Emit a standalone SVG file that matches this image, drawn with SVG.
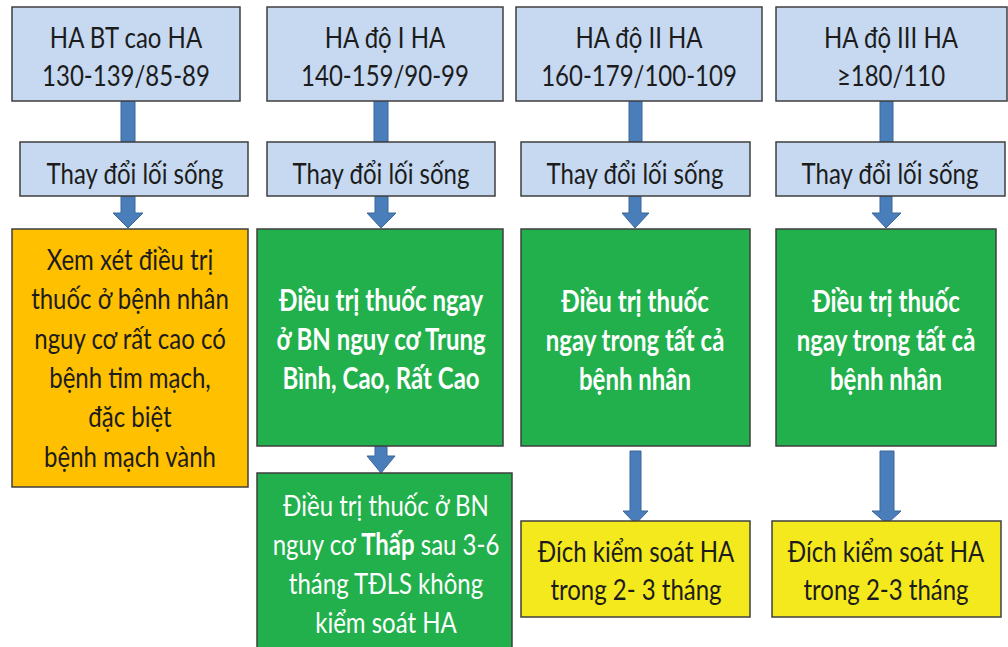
<svg xmlns="http://www.w3.org/2000/svg" width="1008" height="647" viewBox="0 0 1008 647">
<style>
.bx{stroke:#3f3f3f;stroke-width:1.5}
.blue{fill:#C6D9F1}
.org{fill:#FFC000}
.grn{fill:#21B04B}
.yel{fill:#F4E91C}
.t{font-family:Lato,"Liberation Sans","Noto Sans",sans-serif;font-size:24px;fill:#1c1c1c;text-anchor:middle}
.w{fill:#ffffff}
.b{font-weight:bold}
.arr{fill:#4A7EBB;stroke:#3B6699;stroke-width:1}
</style>
<rect width="1008" height="647" fill="#ffffff"/>
<g id="connectors">
<polygon class="arr" points="121,101 135,101 135,142 121,142"/>
<polygon class="arr" points="374,101 388,101 388,142 374,142"/>
<polygon class="arr" points="629,101 642,101 642,142 629,142"/>
<polygon class="arr" points="880,101 893,101 893,142 880,142"/>
<polygon class="arr" points="121,196 135,196 135,213 143,213 128,228 113,213 121,213"/>
<polygon class="arr" points="375,196 388,196 388,213 396,213 381,228 367,213 375,213"/>
<polygon class="arr" points="629,196 641,196 641,213 649,213 635,228 622,213 629,213"/>
<polygon class="arr" points="880,196 892,196 892,213 901,213 886,228 872,213 880,213"/>
<polygon class="arr" points="375,446 387,446 387,456 395,456 381,473 367,456 375,456"/>
<polygon class="arr" points="630,451 641,451 641,511 648,511 635.5,524 623,511 630,511"/>
<polygon class="arr" points="880,451 894,451 894,511 901,511 887,524 872,511 880,511"/>
</g>
<g id="n-b1"><rect class="bx blue" x="12" y="7" width="228" height="94"/>
<text class="t" transform="translate(126,48) scale(1,1.24)"><tspan x="0" y="0">HA BT cao HA</tspan><tspan x="0" y="30.6">130-139/85-89</tspan></text></g>
<g id="n-b2"><rect class="bx blue" x="267" y="7" width="236" height="94"/>
<text class="t" transform="translate(385,48) scale(1,1.24)"><tspan x="0" y="0">HA độ I HA</tspan><tspan x="0" y="30.6">140-159/90-99</tspan></text></g>
<g id="n-b3"><rect class="bx blue" x="516" y="7" width="246" height="94"/>
<text class="t" transform="translate(639,48) scale(1,1.24)"><tspan x="0" y="0">HA độ II HA</tspan><tspan x="0" y="30.6">160-179/100-109</tspan></text></g>
<g id="n-b4"><rect class="bx blue" x="776" y="7" width="231" height="94"/>
<text class="t" transform="translate(891,48) scale(1,1.24)"><tspan x="0" y="0">HA độ III HA</tspan><tspan x="0" y="30.6">≥180/110</tspan></text></g>
<g id="n-t1"><rect class="bx blue" x="20" y="142" width="228" height="54"/>
<text class="t" transform="translate(135,184) scale(1,1.24)">Thay đổi lối sống</text></g>
<g id="n-t2"><rect class="bx blue" x="267" y="142" width="228" height="54"/>
<text class="t" transform="translate(381,184) scale(1,1.24)">Thay đổi lối sống</text></g>
<g id="n-t3"><rect class="bx blue" x="521" y="142" width="229" height="54"/>
<text class="t" transform="translate(635,184) scale(1,1.24)">Thay đổi lối sống</text></g>
<g id="n-t4"><rect class="bx blue" x="776" y="142" width="229" height="54"/>
<text class="t" transform="translate(890,184) scale(1,1.24)">Thay đổi lối sống</text></g>
<g id="n-d1"><rect class="bx org" x="12" y="229" width="236" height="258"/>
<text class="t" transform="translate(130,270) scale(1,1.24)"><tspan x="0" y="0">Xem xét điều trị</tspan><tspan x="0" y="31.7">thuốc ở bệnh nhân</tspan><tspan x="0" y="63.4">nguy cơ rất cao có</tspan><tspan x="0" y="95.1">bệnh tim mạch,</tspan><tspan x="0" y="126.8">đặc biệt</tspan><tspan x="0" y="158.5">bệnh mạch vành</tspan></text></g>
<g id="n-d2"><rect class="bx grn" x="257" y="229" width="246" height="217"/>
<text class="t w b" transform="translate(381,311) scale(1,1.24)"><tspan x="0" y="0">Điều trị thuốc ngay</tspan><tspan x="0" y="31.3">ở BN nguy cơ Trung</tspan><tspan x="0" y="62.6">Bình, Cao, Rất Cao</tspan></text></g>
<g id="n-d3"><rect class="bx grn" x="521" y="229" width="229" height="217"/>
<text class="t w b" transform="translate(635,312) scale(1,1.24)"><tspan x="0" y="0">Điều trị thuốc</tspan><tspan x="0" y="31.3">ngay trong tất cả</tspan><tspan x="0" y="62.6">bệnh nhân</tspan></text></g>
<g id="n-d4"><rect class="bx grn" x="776" y="229" width="220" height="217"/>
<text class="t w b" transform="translate(886,312) scale(1,1.24)"><tspan x="0" y="0">Điều trị thuốc</tspan><tspan x="0" y="31.3">ngay trong tất cả</tspan><tspan x="0" y="62.6">bệnh nhân</tspan></text></g>
<g id="n-l2"><rect class="bx grn" x="257" y="473" width="255" height="180"/>
<text class="t w" transform="translate(386,516) scale(1,1.24)"><tspan x="0" y="0">Điều trị thuốc ở BN</tspan><tspan x="0" y="31.5">nguy cơ <tspan class="b">Thấp</tspan> sau 3-6</tspan><tspan x="0" y="63">tháng TĐLS không</tspan><tspan x="0" y="94.5">kiểm soát HA</tspan></text></g>
<g id="n-y3"><rect class="bx yel" x="521" y="521" width="229" height="96"/>
<text class="t" transform="translate(636,562) scale(1,1.24)"><tspan x="0" y="0">Đích kiểm soát HA</tspan><tspan x="0" y="30.6">trong 2- 3 tháng</tspan></text></g>
<g id="n-y4"><rect class="bx yel" x="772" y="521" width="229" height="96"/>
<text class="t" transform="translate(886,562) scale(1,1.24)"><tspan x="0" y="0">Đích kiểm soát HA</tspan><tspan x="0" y="30.6">trong 2-3 tháng</tspan></text></g>
</svg>
